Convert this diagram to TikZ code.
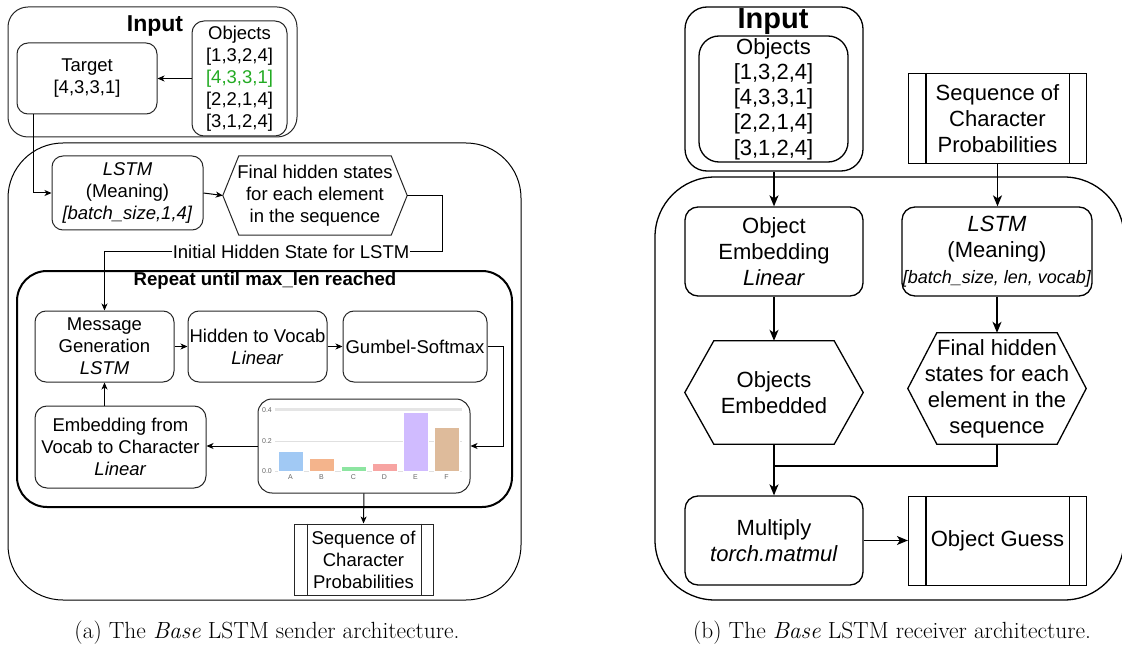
\documentclass[tikz,border=0pt]{standalone}
\usepackage{fontspec}
\newfontfamily\sanss{Liberation Sans}
\usetikzlibrary{arrows.meta,calc}
\definecolor{lgreen}{RGB}{34,170,34}
\definecolor{barA}{HTML}{A1C9F4}
\definecolor{barB}{HTML}{F4B48C}
\definecolor{barC}{HTML}{8DE5A1}
\definecolor{barD}{HTML}{F7A4A2}
\definecolor{barE}{HTML}{D0BBFF}
\definecolor{barF}{HTML}{DEBB9B}
\begin{document}
\begin{tikzpicture}[x=1pt,y=-1pt,
  lfont/.style={font=\sanss\fontsize{18.5}{22}\selectfont},
  rfont/.style={font=\sanss\fontsize{22}{26}\selectfont},
  wh/.style 2 args={minimum width=#1,minimum height=#2,inner sep=0,align=center},
  lbox/.style={draw=black!85,line width=1,lfont},
  rbox/.style={draw,line width=1.3,rfont},
  rproc/.style={draw=black,line width=1.2,rfont},
  arr/.style={-{Stealth[length=7,width=6,inset=2]},line width=1},
  rarr/.style={-{Stealth[length=11,width=9,inset=3]},line width=1.3},
  tick/.style={font=\sanss\fontsize{7}{7}\selectfont,text=black!60},
]
\useasboundingbox (0,0) rectangle (1122,647);

%% ---------------- Sender ----------------
\node[lbox,wh={289}{130},rounded corners=20] (inL) at (152.5,72) {};
\node[font=\sanss\bfseries\fontsize{23}{26}\selectfont] (inLt) at (155,26) {Input};
\node[lbox,wh={95}{115},rounded corners=12] (objL) at (239.5,78.5)
  {Objects\\{}[1,3,2,4]\\{}\textcolor{lgreen}{[4,3,3,1]}\\{}[2,2,1,4]\\{}[3,1,2,4]};
\node[lbox,wh={140}{71},rounded corners=11] (tgt) at (87,78.5) {Target\\{}[4,3,3,1]};

\node[draw,line width=1,wh={513}{457},rounded corners=55] (send) at (264.5,371.5) {};

\node[lbox,wh={151}{74},rounded corners=11] (lstmL) at (127.5,193)
  {\textit{LSTM}\\(Meaning)\\\textit{[batch\_size,1,4]}};
\node[lfont,wh={184}{79}] (hexL) at (315,195.5)
  {Final hidden states\\for each element\\in the sequence};
\draw[line width=1,black!85] (hexL.west) -- ([xshift=16]hexL.north west) -- ([xshift=-16]hexL.north east)
  -- (hexL.east) -- ([xshift=-16]hexL.south east) -- ([xshift=16]hexL.south west) -- cycle;

\node[draw,line width=2,wh={495}{236},rounded corners=30] (rep) at (264.5,389) {};
\node[font=\sanss\bfseries\fontsize{18.6}{22}\selectfont] (rept) at (265,281) {Repeat until max\_len reached};

\node[lbox,wh={139}{71},rounded corners=11] (mg) at (104.5,346.5) {Message\\Generation\\\textit{LSTM}};
\node[lbox,wh={139}{71},rounded corners=11] (htv) at (257.5,346.5) {Hidden to Vocab\\\textit{Linear}};
\node[lbox,wh={144}{71},rounded corners=11] (gum) at (415,346.5) {Gumbel-Softmax};
\node[lbox,wh={171}{82},rounded corners=12] (emb) at (120.5,447) {Embedding from\\Vocab to Character\\\textit{Linear}};
\node[lbox,wh={212}{94},rounded corners=14] (chart) at (364,446) {};
\node[lbox,wh={139}{71}] (seqL) at (363.5,559.5) {Sequence of\\Character\\Probabilities};
\draw[line width=1,black!85] ([xshift=14]seqL.north west) -- ([xshift=14]seqL.south west)
  ([xshift=-12]seqL.north east) -- ([xshift=-12]seqL.south east);

% bar chart of character probabilities
\fill[black!10] (275,408) rectangle (462,411);
\draw[black!12,line width=0.8] (275,441) -- (462,441) (275,471) -- (462,471);
\foreach \v/\yy in {0.4/410,0.2/441,0.0/471}
  \node[tick] at (267,\yy) {\v};
\foreach \c/\xa/\top/\lab in {barA/278/451/A,barB/309/458/B,barC/341/466/C,barD/372/463/D,barE/403/412/E,barF/434/427/F}{
  \filldraw[fill=\c,draw=white,line width=0.6] (\xa,\top) rectangle (\xa+25,471);
  \node[tick] at (\xa+12.5,477.5) {\lab};
}

% sender connectors
\draw[arr] (objL) -- (tgt);
\draw[arr] ([xshift=17]tgt.south west) |- (lstmL.west);
\draw[arr] (lstmL.east) -- (hexL.west);
\coordinate (hsrow) at (0,252);
\draw[arr] (hexL.east) -- ++(35,0) |- (hsrow -| mg.north) -- (mg.north);
\node[lfont,fill=white,inner sep=1] (hslab) at (291,252) {Initial Hidden State for LSTM};
\draw[arr] (mg.east) -- (htv.west);
\draw[arr] (htv.east) -- (gum.west);
\draw[arr] (gum.east) -- ++(16,0) |- (chart.east);
\draw[arr] (chart.west) -- (chart.west -| emb.east);
\draw[arr] (emb.north -| mg.south) -- (mg.south);
\draw[arr] (chart.south) -- (seqL.north);

\node[font=\fontsize{23.4}{26}\selectfont] (capA) at (267,633) {(a) The \textit{Base} LSTM sender architecture.};

%% ---------------- Receiver ----------------
\node[draw,line width=1.3,wh={178}{164},rounded corners=22] (inR) at (774,89) {};
\node[font=\sanss\bfseries\fontsize{29}{30}\selectfont] (inRt) at (773,22) {Input};
\node[rbox,wh={149}{126},rounded corners=20,font=\sanss\fontsize{22}{25.2}\selectfont] (objR) at (773.5,99)
  {\raisebox{0pt}[\height][0pt]{Objects}\\{}[1,3,2,4]\\{}[4,3,3,1]\\{}[2,2,1,4]\\{}[3,1,2,4]};
\node[rproc,wh={178}{90}] (seqR) at (997.5,118.5) {Sequence of\\Character\\Probabilities};
\draw[line width=1.2] ([xshift=18]seqR.north west) -- ([xshift=18]seqR.south west)
  ([xshift=-18]seqR.north east) -- ([xshift=-18]seqR.south east);

\node[draw,line width=1.3,wh={469}{423},rounded corners=60] (recv) at (889.5,388.5) {};

\node[rbox,wh={178}{89},rounded corners=13] (embR) at (774,251.5) {Object\\Embedding\\\textit{Linear}};
\node[rbox,wh={190}{89},rounded corners=13] (lstmR) at (997,251.5)
  {\textit{LSTM}\\(Meaning)\\{\fontsize{18}{20}\selectfont\textit{[batch\_size, len, vocab]}}};

\node[rfont,wh={178}{103}] (hexO) at (774,392.5) {Objects\\Embedded};
\draw[line width=1.3] (hexO.west) -- ([xshift=29]hexO.north west) -- ([xshift=-29]hexO.north east)
  -- (hexO.east) -- ([xshift=-29]hexO.south east) -- ([xshift=29]hexO.south west) -- cycle;
\node[rfont,wh={178}{111}] (hexF) at (997,388.5) {Final hidden\\states for each\\element in the\\sequence};
\draw[line width=1.3] (hexF.west) -- ([xshift=29]hexF.north west) -- ([xshift=-29]hexF.north east)
  -- (hexF.east) -- ([xshift=-29]hexF.south east) -- ([xshift=29]hexF.south west) -- cycle;

\node[rbox,wh={178}{89},rounded corners=13] (mul) at (774,540.5) {Multiply\\\textit{torch.matmul}};
\node[rproc,wh={178}{89}] (guess) at (997.5,541) {Object Guess};
\draw[line width=1.2] ([xshift=18]guess.north west) -- ([xshift=18]guess.south west)
  ([xshift=-18]guess.north east) -- ([xshift=-18]guess.south east);

% receiver connectors
\draw[rarr] (inR.south) -- (embR.north);
\draw[rarr] (seqR.south) -- (seqR.south |- lstmR.north);
\draw[rarr] (embR.south) -- (hexO.north);
\draw[rarr] (lstmR.south) -- (hexF.north);
\draw[rarr] (hexO.south) -- (mul.north);
\coordinate (join) at (774,466);
\draw[line width=1.3] (hexF.south) |- (join);
\draw[rarr] (mul.east) -- (mul.east -| guess.west);

\node[font=\fontsize{23.4}{26}\selectfont] (capB) at (892,633) {(b) The \textit{Base} LSTM receiver architecture.};
\end{tikzpicture}
\end{document}
